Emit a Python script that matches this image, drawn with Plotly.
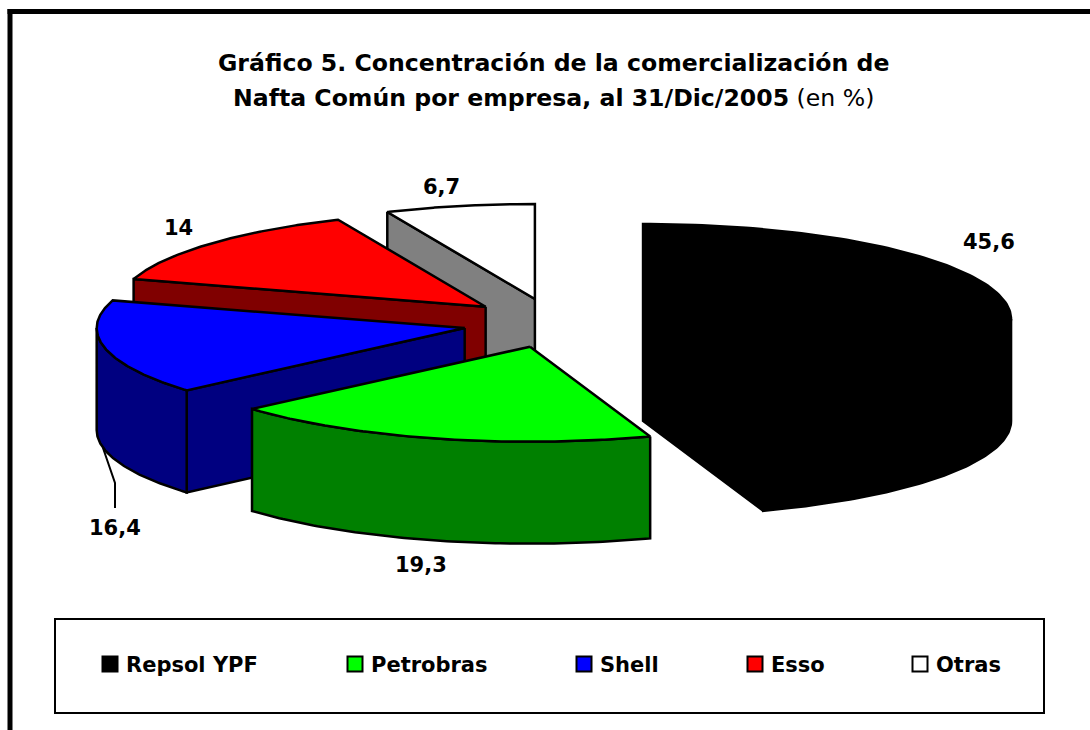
import numpy as np
import plotly.graph_objects as go

# ---- data ----
categories = ["Repsol YPF", "Petrobras", "Shell", "Esso", "Otras"]
values = [45.6, 19.3, 16.4, 14, 6.7]
value_labels = ["45,6", "19,3", "16,4", "14", "6,7"]
top_colors = ["#000000", "#00FF00", "#0000FF", "#FF0000", "#FFFFFF"]
side_colors = ["#000000", "#008000", "#000080", "#800000", "#808080"]
draw_order = [4, 3, 0, 2, 1]

label_x = [989, 421, 115, 178, 441]
label_y = [242, 565, 528, 228, 187]
legend_marker_x = [110, 355, 584, 755, 920]
legend_text_x = [124, 369, 598, 769, 934]
title_lines = ["<b>Gráfico 5. Concentración de la comercialización de</b>",
               "<b>Nafta Común por empresa, al 31/Dic/2005</b> (en %)"]

# ---- pie geometry ----
CX, CY, RX, RY, DEPTH = 553.5, 323.0, 368.0, 95.0, 102.0
EXPLODE_X, EXPLODE_Y = 90.8, 24.5
FONT = "DejaVu Sans"
LINE = 2.5


def pt(c, deg):
    a = np.radians(deg)
    return c[0] + RX * np.sin(a), c[1] - RY * np.cos(a)


def poly(fig, xs, ys, fill, name):
    fig.add_trace(go.Scatter(
        x=list(xs) + [xs[0]], y=list(ys) + [ys[0]], mode="lines", fill="toself",
        fillcolor=fill, line=dict(color="#000000", width=LINE), name=name,
        hoverinfo="name", showlegend=False))


fig = go.Figure()
edges = np.concatenate([[0], np.cumsum(values)]) / np.sum(values) * 360.0

for i in draw_order:
    a, b = edges[i], edges[i + 1]
    mid = np.radians((a + b) / 2)
    c = (CX + EXPLODE_X * np.sin(mid), CY - EXPLODE_Y * np.cos(mid))
    name = categories[i]
    # visible cut faces
    for deg, visible in ((a, np.sin(np.radians(a)) < -1e-6), (b, np.sin(np.radians(b)) > 1e-6)):
        if visible:
            ox, oy = pt(c, deg)
            poly(fig, [c[0], ox, ox, c[0]], [c[1], oy, oy + DEPTH, c[1] + DEPTH], side_colors[i], name)
    # visible outer wall: the front half of the ellipse
    lo, hi = max(a, 90.0), min(b, 270.0)
    if hi > lo:
        t = np.linspace(lo, hi, 90)
        ox, oy = pt(c, t)
        poly(fig, np.r_[ox, ox[::-1]], np.r_[oy, (oy + DEPTH)[::-1]], side_colors[i], name)
    # top face
    t = np.linspace(a, b, 140)
    ox, oy = pt(c, t)
    poly(fig, np.r_[c[0], ox], np.r_[c[1], oy], top_colors[i], name)

# leader line of the Shell label
fig.add_trace(go.Scatter(x=[103, 115, 115], y=[448, 483, 508], mode="lines",
                         line=dict(color="#000000", width=2), hoverinfo="skip", showlegend=False))

# legend swatches
fig.add_trace(go.Scatter(
    x=legend_marker_x, y=[664] * 5, mode="markers", hoverinfo="skip", showlegend=False,
    marker=dict(symbol="square", size=15, color=top_colors, line=dict(color="#000000", width=2))))

ann = []
for line, y in zip(title_lines, (63, 98)):
    ann.append(dict(x=553, y=y, text=line, font=dict(size=23.6, color="#000000", family=FONT),
                    showarrow=False, xanchor="center", yanchor="middle"))
for txt, x, y in zip(value_labels, label_x, label_y):
    ann.append(dict(x=x, y=y, text=f"<b>{txt}</b>", font=dict(size=21, color="#000000", family=FONT),
                    showarrow=False, xanchor="center", yanchor="middle"))
for txt, x in zip(categories, legend_text_x):
    ann.append(dict(x=x, y=665, text=f"<b>{txt}</b>", font=dict(size=21, color="#000000", family=FONT),
                    showarrow=False, xanchor="left", yanchor="middle"))

shapes = [
    dict(type="line", x0=10, x1=10, y0=9, y1=730, line=dict(color="#000000", width=5), layer="below"),
    dict(type="line", x0=7.5, x1=1090, y0=11.5, y1=11.5, line=dict(color="#000000", width=5), layer="below"),
    dict(type="rect", x0=55, x1=1044, y0=619, y1=713, line=dict(color="#000000", width=2), layer="below"),
]

fig.update_layout(
    width=1090, height=730, margin=dict(l=0, r=0, t=0, b=0),
    paper_bgcolor="#FFFFFF", plot_bgcolor="#FFFFFF",
    xaxis=dict(range=[0, 1090], visible=False, fixedrange=True),
    yaxis=dict(range=[730, 0], visible=False, fixedrange=True),
    annotations=ann, shapes=shapes, showlegend=False,
)
fig.write_html("out.html", config={"displayModeBar": False},
               post_script="document.body.style.margin='0';document.documentElement.style.overflow='hidden';")
